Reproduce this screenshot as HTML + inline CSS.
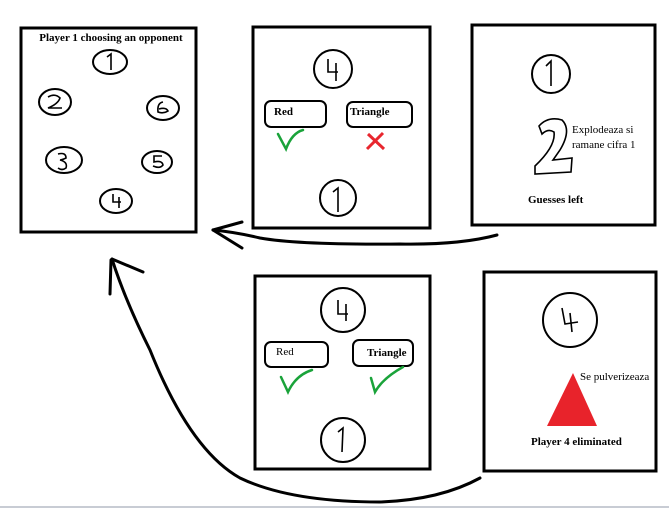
<!DOCTYPE html>
<html><head><meta charset="utf-8"><style>
html,body{margin:0;padding:0;background:#fff;}
svg{display:block;}
text{font-family:"Liberation Serif",serif;fill:#000;}
</style></head><body>
<svg width="669" height="510" viewBox="0 0 669 510" xmlns="http://www.w3.org/2000/svg">
<rect width="669" height="510" fill="#fff"/>
<line x1="0" y1="507" x2="669" y2="507" stroke="#c8ccd4" stroke-width="2"/>
<g fill="none" stroke="#000" stroke-width="3">
<rect x="21" y="28" width="175" height="204"/>
<rect x="253" y="27" width="177" height="201"/>
<rect x="472" y="25" width="183" height="200"/>
<rect x="255" y="276" width="175" height="193"/>
<rect x="484" y="272" width="172" height="199"/>
</g>
<g fill="none" stroke="#000" stroke-width="2">
<ellipse cx="110" cy="62" rx="17" ry="12"/>
<ellipse cx="55" cy="102" rx="16" ry="13"/>
<ellipse cx="163" cy="108" rx="16" ry="12"/>
<ellipse cx="64" cy="160" rx="18" ry="13"/>
<ellipse cx="157" cy="162" rx="15" ry="11"/>
<ellipse cx="116" cy="201" rx="16" ry="12"/>
<circle cx="333" cy="69" r="19"/>
<circle cx="338" cy="198" r="18"/>
<circle cx="551" cy="74" r="19"/>
<circle cx="343" cy="310" r="22"/>
<circle cx="343" cy="440" r="22"/>
<circle cx="570" cy="320" r="27"/>
<rect x="265" y="101" width="61" height="26" rx="6"/>
<rect x="347" y="102" width="65" height="25" rx="6"/>
<rect x="265" y="342" width="63" height="25" rx="6"/>
<rect x="353" y="340" width="60" height="26" rx="6"/>
</g>
<g fill="none" stroke="#000" stroke-width="1.6">
<path d="M107 57 L111 54 L111 70"/>
<path d="M48 97 Q55 93 60 98 Q58 104 48 108 L62 108"/>
<path d="M163 102 Q157 103 158 112 Q163 114 168 111 Q166 107 159 109"/>
<path d="M58 154 Q66 152 66 158 Q62 160 60 160 Q68 162 66 168 Q62 171 58 168"/>
<path d="M162 156 L154 156 L154 162 Q162 160 163 165 Q160 169 153 166"/>
<path d="M113 194 L113 202 L121 202 M119 197 L119 208"/>
<path d="M328 59 L328 72 L338 72 M336 63 L336 81"/>
<path d="M333 192 L338 188 L338 212"/>
<path d="M546 66 L551 61 L551 86"/>
<path d="M338 300 L338 314 L348 314 M346 304 L346 321"/>
<path d="M338 432 L343 428 L342 452"/>
<path d="M562 308 L565 324 L578 322 M570 313 L572 332"/>
<path d="M539 126 Q548 116 562 120 Q572 130 560 150 L553 160 L572 158 L571 172 L535 174 L535 166 Q556 146 554 132 Q548 128 542 134 Z"/>
</g>
<g fill="none" stroke="#1aa33a" stroke-width="2.5" stroke-linecap="round">
<path d="M278 134 L286 149 Q292 133 303 130"/>
<path d="M281 377 L288 392 Q296 375 312 370"/>
<path d="M371 378 L375 392 Q383 378 403 367"/>
</g>
<g stroke="#e8262e" stroke-width="3">
<line x1="368" y1="134" x2="384" y2="149"/><line x1="383" y1="133" x2="367" y2="149"/>
</g>
<polygon points="573,373 547,426 597,426" fill="#e8232b"/>
<g fill="none" stroke="#000" stroke-width="3" stroke-linecap="round">
<path d="M497 235 Q460 245 400 244 Q300 245 260 238 Q235 232 213 230"/>
<path d="M213 230 L242 222 M213 230 L242 248"/>
<path d="M480 478 Q440 500 380 502 Q290 502 240 478 Q190 450 150 350 Q125 300 112 259"/>
<path d="M112 259 L143 272 M111 260 L110 294"/>
</g>
<g font-size="11">
<text x="111" y="41" text-anchor="middle" font-weight="bold">Player 1 choosing an opponent</text>
<text x="274" y="115" font-weight="bold">Red</text>
<text x="350" y="115" font-weight="bold">Triangle</text>
<text x="572" y="133">Explodeaza si</text>
<text x="572" y="148">ramane cifra 1</text>
<text x="528" y="203" font-weight="bold">Guesses left</text>
<text x="276" y="355">Red</text>
<text x="367" y="356" font-weight="bold">Triangle</text>
<text x="580" y="380">Se pulverizeaza</text>
<text x="531" y="445" font-weight="bold">Player 4 eliminated</text>
</g>
</svg>
</body></html>
